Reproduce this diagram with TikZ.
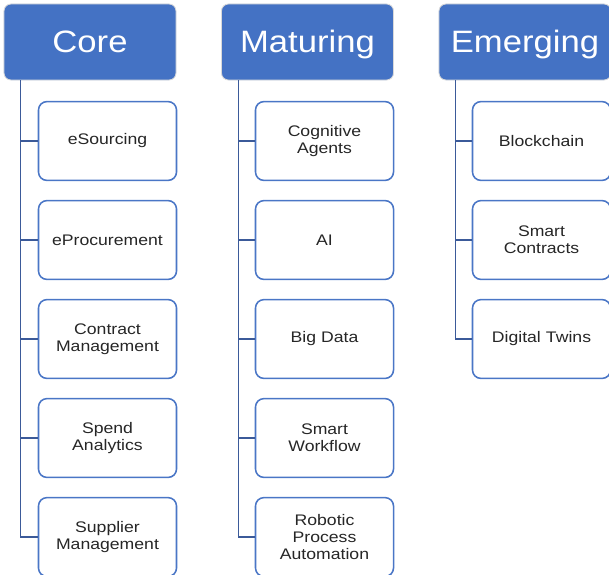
\documentclass[tikz,border=0pt]{standalone}
\usepackage{fontspec}
\setmainfont{Liberation Sans}
\newfontfamily\hdrfont[FakeStretch=1.12]{Liberation Sans}
\newfontfamily\itemfont[FakeStretch=1.15]{Liberation Sans}
\definecolor{hdrblue}{HTML}{4472C4}
\definecolor{boxblue}{HTML}{4A76C6}
\definecolor{lineblue}{HTML}{3B5A99}
\tikzset{
  header/.style={draw=black!15, line width=0.6pt, fill=hdrblue, rounded corners=5pt,
    minimum width=4.3cm, minimum height=1.9cm, text=white,
    text height=15.5pt, text depth=0.5pt,
    font=\hdrfont\fontsize{22}{26}\selectfont},
  item/.style={draw=boxblue, line width=1.1pt, fill=white, rounded corners=6pt,
    minimum width=3.45cm, minimum height=1.97cm, align=center, text width=3.15cm,
    font=\itemfont\fontsize{10.9}{12}\selectfont, text=black!85},
  conn/.style={draw=lineblue, line width=1pt}
}
\begin{document}
\begin{tikzpicture}[x=0.025cm, y=-0.025cm]
  \useasboundingbox (0,0) rectangle (609,574);
  \clip (0,0) rectangle (609,574);

  \node[header] (core) at (90, 42) {Core};
  \node[header] (mat) at (307.5, 42) {Maturing};
  \node[header] (emg) at (525, 42) {Emerging};

  % core
  \node[item] (c1) at (107.5, 141) {eSourcing};
  \node[item] (c2) at (107.5, 240) {eProcurement};
  \node[item] (c3) at (107.5, 339) {Contract\\Management};
  \node[item] (c4) at (107.5, 438) {Spend\\Analytics};
  \node[item] (c5) at (107.5, 537) {Supplier\\Management};

  % maturing
  \node[item] (m1) at (324.5, 141) {Cognitive\\Agents};
  \node[item] (m2) at (324.5, 240) {AI};
  \node[item] (m3) at (324.5, 339) {Big Data};
  \node[item] (m4) at (324.5, 438) {Smart\\Workflow};
  \node[item] (m5) at (324.5, 537) {Robotic\\Process\\Automation};

  % emerging
  \node[item] (e1) at (541.5, 141) {Blockchain};
  \node[item] (e2) at (541.5, 240) {Smart\\Contracts};
  \node[item] (e3) at (541.5, 339) {Digital Twins};

  \foreach \c in {c1,c2,c3,c4,c5}
    \draw[conn] ([xshift=0.43cm]core.south west) |- (\c.west);
  \foreach \m in {m1,m2,m3,m4,m5}
    \draw[conn] ([xshift=0.43cm]mat.south west) |- (\m.west);
  \foreach \e in {e1,e2,e3}
    \draw[conn] ([xshift=0.43cm]emg.south west) |- (\e.west);
\end{tikzpicture}
\end{document}
